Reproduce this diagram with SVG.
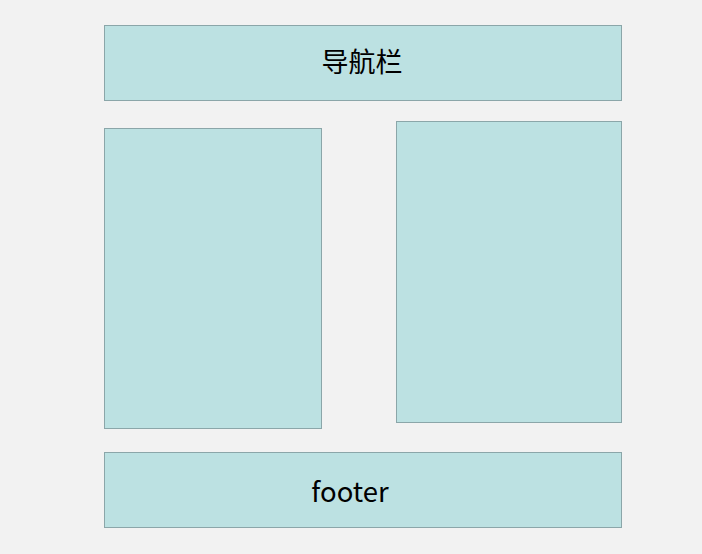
<svg xmlns="http://www.w3.org/2000/svg" width="702" height="554" viewBox="0 0 702 554">
<style>
.box{fill:#bce1e2;stroke:#8ba6a9;stroke-width:1}
.t{font-family:"Noto Sans CJK SC","Open Sans","Liberation Sans",sans-serif;fill:#000;text-anchor:middle}
</style>
<rect width="702" height="554" fill="#f2f2f2"/>
<g id="nav"><rect class="box" x="104.5" y="25.5" width="517" height="75"/><text class="t" x="362" y="72" font-size="27">导航栏</text></g>
<g id="left"><rect class="box" x="104.5" y="128.5" width="217" height="300"/></g>
<g id="right"><rect class="box" x="396.5" y="121.5" width="225" height="301"/></g>
<g id="footer"><rect class="box" x="104.5" y="452.5" width="517" height="75"/><text class="t" x="350" y="502" font-size="27.5">footer</text></g>
<g id="connectors"/>
</svg>
